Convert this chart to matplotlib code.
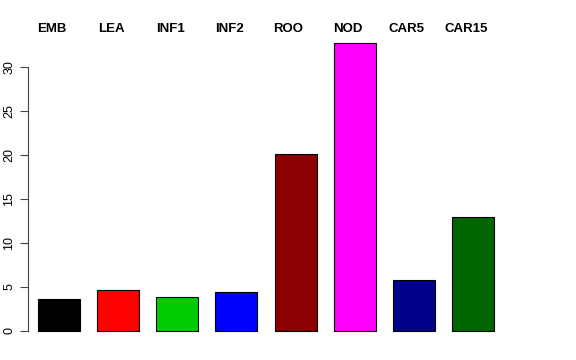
import matplotlib
matplotlib.use("Agg")
import matplotlib.pyplot as plt
import numpy as np

plt.rcParams["font.family"] = ["Liberation Sans", "DejaVu Sans"]

# tissue groups and values
groups = ["EMB", "LEA", "INF1", "INF2", "ROO", "NOD", "CAR5", "CAR15"]
values = [3.6, 4.65, 3.85, 4.4, 20.1, 32.7, 5.8, 12.9]
colors = ["black", "red", "#00CD00", "blue", "#8B0000", "magenta", "#00008B", "#006400"]

fig = plt.figure(figsize=(5.76, 3.6), dpi=100)
# plot region placed like R's default barplot margins
ax = fig.add_axes([28 / 576, 1 - 342.5 / 360, 476 / 576, 311 / 360])

x = np.arange(len(groups))
ax.bar(x, values, width=0.71, color=colors, edgecolor="black", linewidth=0.8)

top = max(values)
ax.set_ylim(-0.04 * top, 1.04 * top)
ax.set_xlim(-0.525, len(groups) - 1 + 0.525)

for s in ["top", "right", "bottom"]:
    ax.spines[s].set_visible(False)
ax.spines["left"].set_bounds(0, 30)
ax.spines["left"].set_color("#444444")
ax.set_xticks([])
ax.set_yticks([0, 5, 10, 15, 20, 25, 30])
ax.tick_params(axis="y", length=6, color="#444444", labelsize=9, pad=3)
for lab in ax.get_yticklabels():
    lab.set_rotation(90)
    lab.set_va("center")

# group names above the bars
for xi, g in zip(x, groups):
    ax.text(xi - 0.12, 1 + 2.5 / 311, g, transform=ax.get_xaxis_transform(),
            ha="center", va="center", fontsize=9.5, fontweight="bold")

fig.savefig("out.png", dpi=100)
